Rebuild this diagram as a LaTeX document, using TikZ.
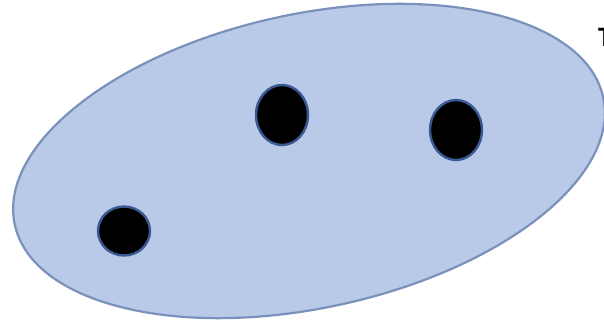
\documentclass[tikz,border=0pt]{standalone}
\usepackage{fontspec}
\setmainfont{Carlito}
\usetikzlibrary{shapes.geometric}
\definecolor{setfill}{HTML}{B9CAE8}
\definecolor{setedge}{HTML}{7A91BC}
\definecolor{dotedge}{HTML}{3A5A94}

\begin{document}
\begin{tikzpicture}[
  x=0.5mm,
  y=-0.5mm,
  setregion/.style={fill=setfill,draw=setedge,line width=1.1mm},
  point/.style={ellipse,fill=black,draw=dotedge,line width=1.2mm,inner sep=0pt}
]
  \useasboundingbox (0,0) rectangle (604,322);

  % The tilted set.
  \coordinate (setcentre) at (309,161);
  \draw[setregion,rotate around={12.2:(setcentre)}] (setcentre) ellipse [x radius=301, y radius=147];

  % Its three elements.
  \node[point,minimum width=26mm,minimum height=24.5mm] (pa) at (124,231) {};
  \node[point,minimum width=26mm,minimum height=30mm] (pb) at (282,115) {};
  \node[point,minimum width=26mm,minimum height=30mm] (pc) at (456,130) {};

  % Label cut off at the right edge.
  \node[anchor=north west,inner sep=0pt,font=\bfseries\fontsize{40}{48}\selectfont] (setlabel) at (598,28) {T};
\end{tikzpicture}
\end{document}
